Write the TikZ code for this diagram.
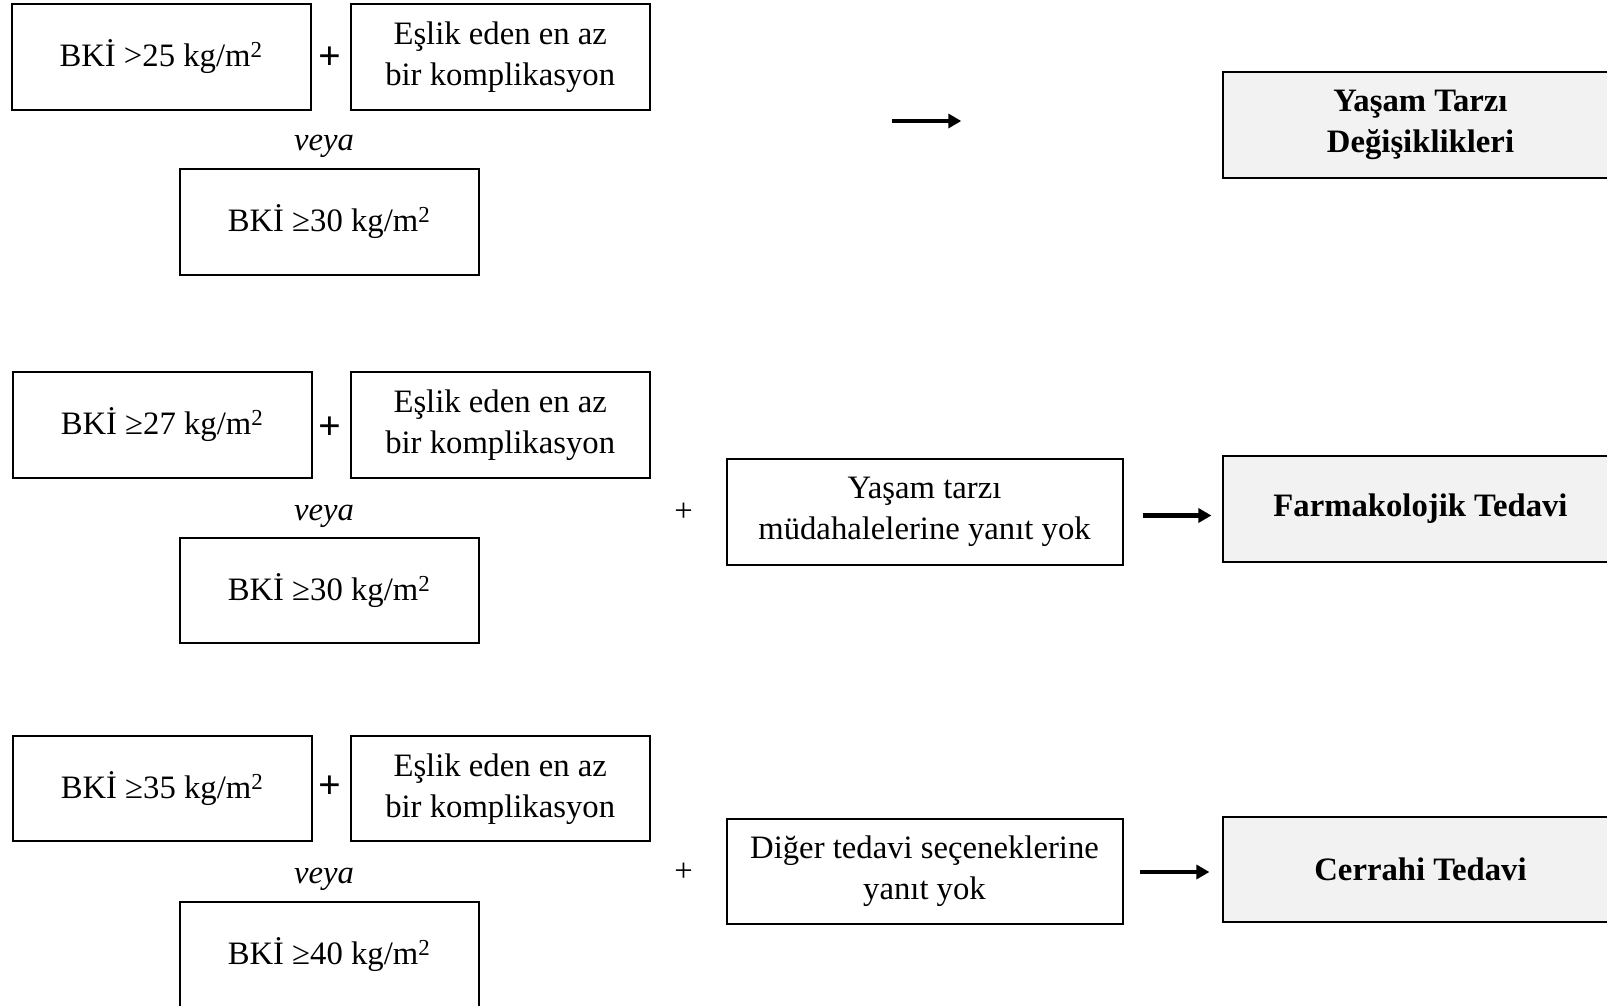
\documentclass[tikz,border=0pt]{standalone}
\usepackage{fontspec}
\setmainfont{Liberation Serif}
\usetikzlibrary{arrows.meta}
\definecolor{boxgray}{HTML}{F2F2F2}
\newcommand{\sqm}{kg/m\textsuperscript{2}}
\tikzset{
  x=1pt, y=-1pt,
  box/.style={draw, line width=2pt, minimum width=299pt, minimum height=105.5pt, inner sep=0pt, align=center,
     font=\fontsize{32.7}{41}\selectfont},
  widebox/.style={box, minimum width=396pt},
  resbox/.style={widebox, fill=boxgray, font=\fontsize{32.7}{41}\selectfont\bfseries},
  plain/.style={inner sep=0pt, font=\fontsize{32.7}{41}\selectfont},
  bigplus/.style={inner sep=0pt, font=\fontsize{40}{41}\selectfont\bfseries},
  orword/.style={inner sep=0pt, font=\fontsize{32.7}{41}\selectfont\itshape},
  arr/.style={line width=4.2pt, -{Triangle[length=13pt,width=14pt]}}
}
\begin{document}
\begin{tikzpicture}
\clip (0,0) rectangle (1607,1006);
\fill[white] (0,0) rectangle (1607,1006);
% Row 1
\node[box] (a1) at (161,56.8) {BKİ >25 \sqm};
\node[bigplus] (p1) at (330,58) {+};
\node[box] (b1) at (500.2,56.8) {Eşlik eden en az\\bir komplikasyon};
\node[orword] (v1) at (324,146) {veya};
\node[box] (c1) at (329,221.9) {BKİ ≥30 \sqm};
\node[resbox] (r1) at (1420.5,125) {Yaşam Tarzı\\Değişiklikleri};
\coordinate (s1) at (891.6,121);
\coordinate (e1) at (961.3,121);
\draw[arr] (s1) -- (e1);
% Row 2
\node[box] (a2) at (162,424.8) {BKİ ≥27 \sqm};
\node[bigplus] (p2) at (330,428.4) {+};
\node[box] (b2) at (500.2,424.8) {Eşlik eden en az\\bir komplikasyon};
\node[orword] (v2) at (324,516) {veya};
\node[box] (c2) at (329,590.3) {BKİ ≥30 \sqm};
\node[plain] (q2) at (683.6,512) {+};
\node[widebox] (d2) at (924.5,511.9) {Yaşam tarzı\\müdahalelerine yanıt yok};
\node[resbox] (r2) at (1420.5,508.8) {Farmakolojik Tedavi};
\coordinate (s2) at (1142.7,515.5);
\coordinate (e2) at (1211.4,515.5);
\draw[arr] (s2) -- (e2);
% Row 3
\node[box] (a3) at (162,788.7) {BKİ ≥35 \sqm};
\node[bigplus] (p3) at (330,787) {+};
\node[box] (b3) at (500.2,788.7) {Eşlik eden en az\\bir komplikasyon};
\node[orword] (v3) at (324,879) {veya};
\node[box] (c3) at (329,954.8) {BKİ ≥40 \sqm};
\node[plain] (q3) at (683.6,872.5) {+};
\node[widebox] (d3) at (924.5,871.5) {Diğer tedavi seçeneklerine\\yanıt yok};
\node[resbox] (r3) at (1420.5,869.7) {Cerrahi Tedavi};
\coordinate (s3) at (1139.7,872);
\coordinate (e3) at (1209.4,872);
\draw[arr] (s3) -- (e3);
\end{tikzpicture}
\end{document}
